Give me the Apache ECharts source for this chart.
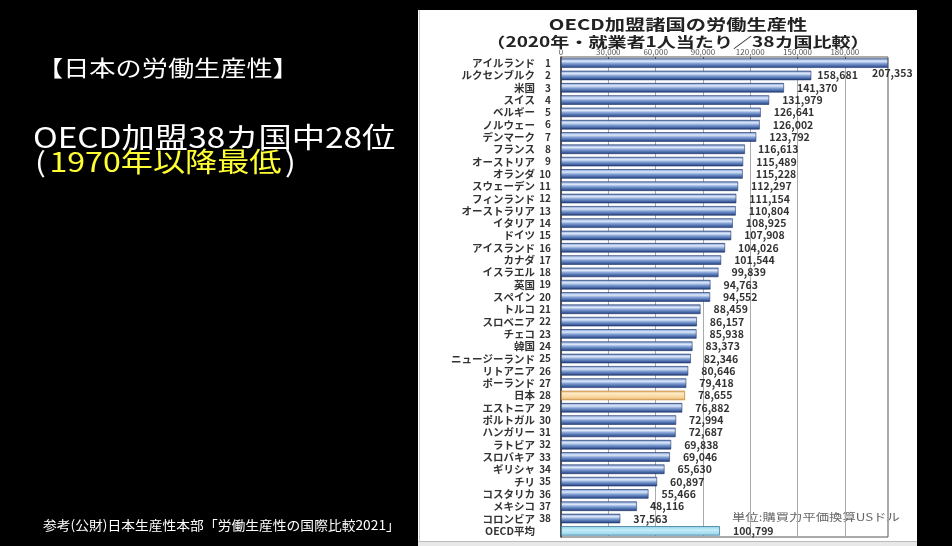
<!DOCTYPE html>
<html><head><meta charset="utf-8">
<script src="https://cdn.jsdelivr.net/npm/echarts@6/dist/echarts.min.js"></script>
<style>html,body{margin:0;padding:0;background:#000;}#c{width:952px;height:546px;}</style>
</head><body><div id="c"></div>
<script>
const countries = ['アイルランド','ルクセンブルク','米国','スイス','ベルギー','ノルウェー','デンマーク','フランス','オーストリア','オランダ','スウェーデン','フィンランド','オーストラリア','イタリア','ドイツ','アイスランド','カナダ','イスラエル','英国','スペイン','トルコ','スロベニア','チェコ','韓国','ニュージーランド','リトアニア','ポーランド','日本','エストニア','ポルトガル','ハンガリー','ラトビア','スロバキア','ギリシャ','チリ','コスタリカ','メキシコ','コロンビア','OECD平均'];
const ranks = ['1','2','3','4','5','6','7','8','9','10','11','12','13','14','15','16','17','18','19','20','21','22','23','24','25','26','27','28','29','30','31','32','33','34','35','36','37','38',''];
const values = [207353,158681,141370,131979,126641,126002,123792,116613,115489,115228,112297,111154,110804,108925,107908,104026,101544,99839,94763,94552,88459,86157,85938,83373,82346,80646,79418,78655,76882,72994,72687,69838,69046,65630,60897,55466,48116,37563,100799];
const tickValues = [0,30000,60000,90000,120000,150000,180000];

const FONT = '"Noto Sans CJK JP", "Noto Sans", sans-serif';
const blueGrad = {type:'linear',x:0,y:0,x2:0,y2:1,colorStops:[
  {offset:0,color:'#2c4a86'},{offset:0.12,color:'#9fb8e4'},{offset:0.3,color:'#dfe9f8'},
  {offset:0.55,color:'#7f9ed4'},{offset:0.85,color:'#3c5c9c'},{offset:1,color:'#1c3266'}]};
const japanGrad = {type:'linear',x:0,y:0,x2:0,y2:1,colorStops:[
  {offset:0,color:'#e8b870'},{offset:0.3,color:'#fde9c6'},{offset:0.7,color:'#f8d49a'},{offset:1,color:'#e0a860'}]};
const oecdGrad = {type:'linear',x:0,y:0,x2:0,y2:1,colorStops:[
  {offset:0,color:'#8cd0e8'},{offset:0.4,color:'#c4ecf8'},{offset:1,color:'#92d4ea'}]};

const data = values.map((v,i)=>{
  const d = {value:v, itemStyle:{color:blueGrad, borderColor:'#23396e', borderWidth:0.6}};
  if (countries[i]==='日本') d.itemStyle = {color:japanGrad, borderColor:'#c08a3a', borderWidth:0.8};
  if (countries[i]==='OECD平均') d.itemStyle = {color:oecdGrad, borderColor:'#3c7aa0', borderWidth:0.8};
  if (i===0) d.label = {position:'right', distance:0, offset:[-16,10]};
  if (i===1) d.label = {distance:6};
  return d;
});

function txt(x, y, text, font, fill, sx, align) {
  return {type:'text', x:x, y:y, scaleX:sx, scaleY:1,
    style:{text:text, font:font, fill:fill, align:align||'left', verticalAlign:'middle'}};
}

// measure pieces of the mixed-colour line
const mctx = document.createElement('canvas').getContext('2d');
const F3 = '27px ' + FONT;
mctx.font = F3;
const wOpen = mctx.measureText('(').width + 3;
const wMid = mctx.measureText('1970年以降最低').width + 3;

const chart = echarts.init(document.getElementById('c'), null, {renderer:'canvas'});
chart.setOption({
  backgroundColor:'#000',
  animation:false,
  graphic:[
    {type:'rect', z:-10, shape:{x:418,y:10,width:499,height:536}, style:{fill:'#fff'}},
    {type:'line', z:-9, shape:{x1:418,y1:541.5,x2:917,y2:541.5}, style:{stroke:'#bbb',lineWidth:1}},
    {type:'rect', z:-9, shape:{x:418,y:542,width:499,height:4}, style:{fill:'#e8e8e8'}},
    {type:'line', z:-9, shape:{x1:419.5,y1:10,x2:419.5,y2:542}, style:{stroke:'#ccc',lineWidth:1}},
    txt(37, 68, '【日本の労働生産性】', '22px '+FONT, '#fff', 1.19),
    txt(33, 137, 'OECD加盟38カ国中28位', '28px '+FONT, '#fff', 1.19),
    {type:'group', x:35, y:162, scaleX:1.19, children:[
      {type:'text', x:0, y:0, style:{text:'(', font:F3, fill:'#fff', align:'left', verticalAlign:'middle'}},
      {type:'text', x:wOpen, y:0, style:{text:'1970年以降最低', font:F3, fill:'#ffff33', align:'left', verticalAlign:'middle'}},
      {type:'text', x:wOpen+wMid, y:0, style:{text:')', font:F3, fill:'#fff', align:'left', verticalAlign:'middle'}}
    ]},
    txt(43, 525, '参考(公財)日本生産性本部「労働生産性の国際比較2021」', '13px '+FONT, '#fff', 1.06),
    txt(732, 517, '単位:購買力平価換算USドル', '10.5px '+FONT, '#666', 1.27),
    txt(678, 24, 'OECD加盟諸国の労働生産性', 'bold 15px '+FONT, '#222', 1.35, 'center'),
    txt(678, 41.5, '（2020年・就業者1人当たり／38カ国比較）', 'bold 14px '+FONT, '#222', 1.36, 'center')
  ],
  grid:{left:561, top:57, right:64, bottom:9, show:true, borderColor:'#555', borderWidth:1, backgroundColor:'transparent'},
  xAxis:{type:'value', position:'top', min:0, max:207353, interval:30000,
    axisLine:{show:false}, axisTick:{show:true, inside:true, length:3, lineStyle:{color:'#555'}},
    splitLine:{show:true, lineStyle:{color:'#aaa', width:1}},
    axisLabel:{showMaxLabel:false, margin:1, fontFamily:FONT, fontSize:8, color:'#555',
      formatter:v=> tickValues.includes(v) ? v.toLocaleString('en-US') : ''}},
  yAxis:{type:'category', inverse:true, data:countries,
    axisLine:{show:true, lineStyle:{color:'#333', width:1.5}}, axisTick:{show:false},
    axisLabel:{interval:0, margin:10, fontFamily:FONT, fontSize:10.5, fontWeight:'bold', color:'#333',
      formatter:(v,i)=> '{n|'+v+'}{r|'+ranks[i]+'}',
      rich:{n:{fontFamily:FONT, fontSize:10.5, fontWeight:'bold', color:'#333'},
            r:{fontFamily:FONT, fontSize:10, fontWeight:'bold', color:'#333', width:16, align:'right'}}}},
  series:[{type:'bar', data:data, barCategoryGap:'23%',
    label:{show:true, position:'right', distance:13, fontFamily:FONT, fontSize:10.5, fontWeight:'bold', color:'#333',
      formatter:p=>p.value.toLocaleString('en-US')}}]
});
</script></body></html>
